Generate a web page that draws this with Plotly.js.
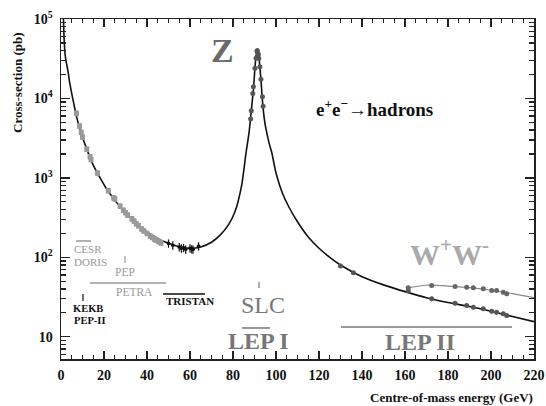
<!DOCTYPE html>
<html><head><meta charset="utf-8">
<script src="https://cdn.plot.ly/plotly-3.0.1.min.js"></script>
<style>body{margin:0;background:#fff}#c{width:546px;height:406px}</style>
</head><body><div id="c"></div>
<script>
// main theory curve
const curveE = [1.1, 1.5, 2, 2.5, 3, 3.5, 4, 5, 6, 7, 8, 10, 12, 15, 18, 21, 25, 29, 33, 37, 41, 45, 50, 55, 60, 65, 70, 74, 78, 81, 84, 86, 87.5, 88.5, 89.5, 90.2, 90.7, 91.2, 91.6, 92, 92.5, 93, 94, 95, 96, 97, 98, 100, 103, 106, 110, 115, 120, 125, 130, 140, 150, 160, 170, 180, 190, 200, 210, 220];
const curveS = [110000, 52000, 34000, 28000, 24000, 20000, 16000, 11500, 8500, 6300, 4900, 3250, 2300, 1450, 1020, 740, 525, 390, 300, 240, 200, 172, 150, 136, 130, 135, 155, 190, 260, 380, 800, 2000, 3800, 7000, 13000, 24000, 34000, 40000, 39000, 34000, 25000, 17000, 7500, 4600, 3400, 2600, 2100, 1150, 640, 430, 280, 180, 130, 100, 80, 57, 45, 37, 31, 27, 24, 21, 18, 15.5];
// upper LEP II curve
const upperE = [161, 170, 180, 190, 200, 210, 220];
const upperS = [41, 44.5, 43.5, 41.5, 38.5, 35, 31];
// low-energy measurements (grey)
const lowE = [7.2, 8.6, 9.4, 10.0, 12.0, 13.5, 14.0, 17.0, 22.0, 24.5, 25.0, 27.5, 29.0, 30.0, 31.0, 33.0, 34.0, 35.0, 36.0, 37.5, 38.5, 40.0, 41.5, 42.5, 43.5, 44.2, 45.5, 46.5];
const lowS = [6500, 4500, 3750, 3250, 2300, 1850, 1700, 1150, 690, 560, 545, 440, 390, 365, 340, 305, 285, 265, 250, 228, 215, 200, 185, 178, 170, 165, 158, 152];
// TRISTAN
const triE = [50, 52, 55, 56, 57, 58, 60, 60.8, 61.4, 64];
const triS = [150, 142, 135, 130, 132, 126, 130, 127, 126, 138];
// LEP I Z scan
const zE = [88.2, 88.5, 89.2, 89.5, 90.2, 90.7, 91.2, 91.3, 91.8, 92.0, 92.5, 93.0, 93.7, 94.0];
const zS = [5500, 7000, 11500, 14000, 24000, 32000, 39000, 40000, 36000, 32000, 25000, 17500, 10500, 8000];
// LEP II
const lep2E = [130, 136, 161.5, 172.4, 183.3, 188.7, 191.8, 196.4, 200.3, 202.6, 205.7, 207.3];
const lep2S = [78, 64, 38, 30, 26.4, 24.7, 23.5, 22.5, 21, 20.4, 19.5, 18.5];
const lep2uE = [161.5, 172.4, 183.3, 188.7, 191.8, 196.4, 200.3, 202.6, 205.7, 207.3];
const lep2uS = [41.4, 44.3, 43, 42, 41.4, 40.2, 38.3, 38.3, 36.4, 34.8];
// tick labels
const xTicks = [0, 20, 40, 60, 80, 100, 120, 140, 160, 180, 200, 220];
const yTickVals = [10, 100, 1000, 10000, 100000];
const yTickText = ['10', '10<sup>2</sup>', '10<sup>3</sup>', '10<sup>4</sup>', '10<sup>5</sup>'];

const minorY = [];
[1, 10, 100, 1000, 10000].forEach(d => { for (let k = 2; k <= 9; k++) { if (d * k >= 5.3) minorY.push(d * k); } });
const minorX = [];
for (let v = 0; v <= 220; v += 5) if (v % 20) minorX.push(v);

const serif = 'Liberation Serif, Times New Roman, serif';
const pct = a => a.map(v => v * 0.06);

const traces = [
  {x: curveE, y: curveS, mode: 'lines', line: {color: '#111', width: 1.6, shape: 'spline', smoothing: 0.6}, hoverinfo: 'skip'},
  {x: upperE, y: upperS, mode: 'lines', line: {color: '#888', width: 1.2, shape: 'spline'}, hoverinfo: 'skip'},
  {x: lowE, y: lowS, mode: 'markers', marker: {symbol: 'square', size: 5, color: '#9a9a9a'},
   error_y: {type: 'data', array: pct(lowS), color: '#9a9a9a', thickness: 1.5, width: 2}},
  {x: triE, y: triS, mode: 'markers', marker: {symbol: 'square', size: 3, color: '#111'},
   error_y: {type: 'data', array: triS.map(v => v * 0.12), color: '#111', thickness: 1.2, width: 0},
   error_x: {type: 'constant', value: 0.9, color: '#111', thickness: 1.2, width: 0}},
  {x: zE, y: zS, mode: 'markers', marker: {symbol: 'circle', size: 5, color: '#555'}},
  {x: lep2E, y: lep2S, mode: 'markers', marker: {symbol: 'circle', size: 5, color: '#555'},
   error_y: {type: 'data', array: pct(lep2S), color: '#555', thickness: 1, width: 0}},
  {x: lep2uE, y: lep2uS, mode: 'markers', marker: {symbol: 'circle', size: 5, color: '#666'},
   error_y: {type: 'data', array: pct(lep2uS), color: '#666', thickness: 1, width: 0}}
];

const W = 546, H = 406, L = 61, R = 12, T = 19, B = 47;
const px = x => (x - L) / (W - L - R);
const py = y => 1 - (y - T) / (H - T - B);

function txt(text, x, y, size, color, bold) {
  return {xref: 'paper', yref: 'paper', x: px(x), y: py(y), text: bold ? '<b>' + text + '</b>' : text,
    showarrow: false, xanchor: 'center', yanchor: 'middle',
    font: {family: serif, size: size, color: color}};
}
const annotations = [
  txt('Z', 222, 50, 34, '#6a6a6a', true),
  txt('e<sup>+</sup>e<sup>\u2212</sup>\u2192hadrons', 374, 108, 19, '#111', true),
  txt('W<sup>+</sup>W<sup>-</sup>', 449, 252, 30, '#aaaaaa', true),
  txt('CESR', 88, 249, 11, '#999', false),
  txt('DORIS', 90, 262, 11, '#999', false),
  txt('PEP', 125, 272, 11.5, '#999', false),
  txt('PETRA', 134, 292, 11.5, '#999', false),
  txt('KEKB', 88, 308, 10.5, '#111', true),
  txt('PEP-II', 90, 320, 10.5, '#111', true),
  txt('TRISTAN', 190, 301, 11, '#111', true),
  txt('SLC', 263, 305, 24, '#777', false),
  txt('LEP I', 258, 341, 24, '#777', true),
  txt('LEP II', 420, 342, 24, '#777', true),
  {xref: 'paper', yref: 'paper', x: px(535), y: py(397), xanchor: 'right', yanchor: 'middle', showarrow: false,
   text: '<b>Centre-of-mass energy (GeV)</b>', font: {family: serif, size: 13, color: '#111'}},
  {xref: 'paper', yref: 'paper', x: px(17), y: py(83), xanchor: 'center', yanchor: 'middle', showarrow: false,
   textangle: -90, text: '<b>Cross-section (pb)</b>', font: {family: serif, size: 13, color: '#111'}}
];

function hl(x0, x1, y, color) {
  return {type: 'line', xref: 'paper', yref: 'paper', x0: px(x0), x1: px(x1), y0: py(y), y1: py(y), line: {color: color, width: 1.5}};
}
function vl(x, y0, y1, color) {
  return {type: 'line', xref: 'paper', yref: 'paper', x0: px(x), x1: px(x), y0: py(y0), y1: py(y1), line: {color: color, width: 1.2}};
}
const shapes = [
  hl(76, 91, 241, '#999'),
  vl(125, 256, 263, '#999'),
  hl(90, 166, 283, '#999'),
  vl(83, 294, 301, '#111'),
  hl(163, 205, 294, '#111'),
  vl(259, 282, 288, '#777'),
  hl(242, 270, 328, '#777'),
  hl(341, 512, 327, '#777')
];

const layout = {
  width: W, height: H,
  margin: {l: L, r: R, t: T, b: B, pad: 0},
  paper_bgcolor: '#fff', plot_bgcolor: '#fff',
  showlegend: false,
  font: {family: serif, color: '#111'},
  xaxis: {
    range: [0, 220], tickmode: 'array', tickvals: xTicks, ticktext: xTicks.map(v => '<b>' + v + '</b>'),
    ticks: 'inside', ticklen: 8, tickwidth: 1.3, tickcolor: '#222',
    showline: true, linecolor: '#222', linewidth: 1.5, mirror: 'ticks',
    showgrid: false, zeroline: false, tickfont: {family: serif, size: 14, color: '#111'},
    ticklabelstandoff: 3,
    minor: {tickmode: 'array', tickvals: minorX, ticks: 'inside', ticklen: 4, tickwidth: 1.2, tickcolor: '#222', showgrid: false}
  },
  yaxis: {
    type: 'log', range: [Math.log10(5.25), 5], tickmode: 'array', tickvals: yTickVals,
    ticktext: yTickText.map(t => '<b>' + t + '</b>'),
    ticks: 'inside', ticklen: 9, tickwidth: 1.3, tickcolor: '#222',
    showline: true, linecolor: '#222', linewidth: 1.5, mirror: 'ticks',
    showgrid: false, zeroline: false, tickfont: {family: serif, size: 14, color: '#111'},
    ticklabelstandoff: 4,
    minor: {tickmode: 'array', tickvals: minorY, ticks: 'inside', ticklen: 5, tickwidth: 1.2, tickcolor: '#222', showgrid: false}
  },
  annotations: annotations,
  shapes: shapes
};
Plotly.newPlot('c', traces, layout, {displayModeBar: false, staticPlot: true});
</script></body></html>
